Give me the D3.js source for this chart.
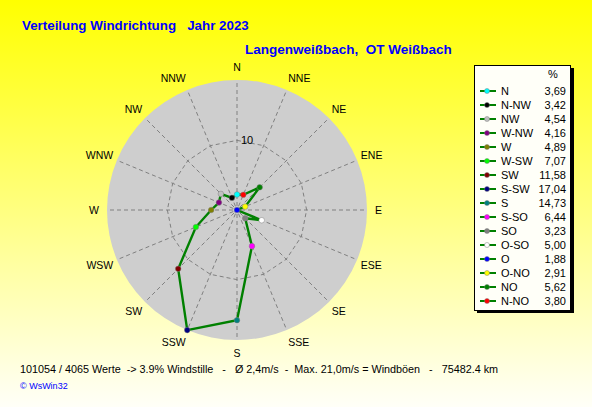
<!DOCTYPE html>
<html>
<head>
<meta charset="utf-8">
<title>Verteilung Windrichtung</title>
<script src="https://d3js.org/d3.v7.min.js"></script>
<style>
  html, body { margin: 0; padding: 0; }
  svg { display: block; }
  text { font-family: "Liberation Sans", Arial, sans-serif; font-size: 11px; fill: #000; }
</style>
</head>
<body>
<div id="chart"></div>
<script>
  // values in clockwise order, starting at north
  const directions = ["N", "NNE", "NE", "ENE", "E", "ESE", "SE", "SSE", "S", "SSW", "SW", "WSW", "W", "WNW", "NW", "NNW"];
  const percents = [3.69, 3.80, 5.62, 2.91, 1.88, 5.00, 3.23, 6.44, 14.73, 17.04, 11.58, 7.07, 4.89, 4.16, 4.54, 3.42];
  const markerColors = ["#00ffff", "#ff0000", "#008000", "#ffff00", "#0000ff", "#ffffff", "#808080", "#ff00ff", "#008080", "#000080", "#800000", "#00ff00", "#808000", "#800080", "#c0c0c0", "#000000"];

  // legend order, as in the table on the right
  const legendNames = ["N", "N-NW", "NW", "W-NW", "W", "W-SW", "SW", "S-SW", "S", "S-SO", "SO", "O-SO", "O", "O-NO", "NO", "N-NO"];
  const legendValues = ["3,69", "3,42", "4,54", "4,16", "4,89", "7,07", "11,58", "17,04", "14,73", "6,44", "3,23", "5,00", "1,88", "2,91", "5,62", "3,80"];
  const legendColors = ["#00ffff", "#000000", "#c0c0c0", "#800080", "#808000", "#00ff00", "#800000", "#000080", "#008080", "#ff00ff", "#808080", "#ffffff", "#0000ff", "#ffff00", "#008000", "#ff0000"];

  const ringValue = 10;

  const width = 592, height = 407;
  const cx = 237, cy = 210, outerR = 130;

  const svg = d3.select("#chart").append("svg")
    .attr("width", width)
    .attr("height", height);

  const grad = svg.append("defs").append("linearGradient")
    .attr("id", "bg")
    .attr("x1", 0).attr("y1", 0).attr("x2", 0).attr("y2", 1);
  grad.append("stop").attr("offset", "0%").attr("stop-color", "#ffff00");
  grad.append("stop").attr("offset", "100%").attr("stop-color", "#fffff8");

  svg.append("rect")
    .attr("width", width)
    .attr("height", height)
    .attr("fill", "url(#bg)");

  // titles
  svg.append("text")
    .attr("x", 22).attr("y", 30)
    .attr("xml:space", "preserve")
    .style("font-size", "13.35px").style("font-weight", "bold").style("fill", "#0000ff")
    .text("Verteilung Windrichtung   Jahr 2023");

  svg.append("text")
    .attr("x", 245).attr("y", 54)
    .attr("xml:space", "preserve")
    .style("font-size", "13.5px").style("font-weight", "bold").style("fill", "#0000ff")
    .text("Langenweißbach,  OT Weißbach");

  // the radial axis begins at the smallest value, not at zero
  const r = d3.scaleLinear()
    .domain([d3.min(percents), d3.max(percents)])
    .range([0, outerR]);

  const angle = d3.scalePoint()
    .domain(d3.range(directions.length + 1))
    .range([0, 2 * Math.PI]);

  const polar = svg.append("g")
    .attr("transform", `translate(${cx},${cy})`);

  polar.append("circle")
    .attr("r", outerR)
    .attr("fill", "#cecece");

  const line = d3.lineRadial()
    .angle((d, i) => angle(i))
    .radius(d => r(d))
    .curve(d3.curveLinearClosed);

  // the 10 % ring is a polygon with a corner on every spoke
  polar.append("path")
    .attr("d", line(directions.map(() => ringValue)))
    .attr("fill", "none")
    .attr("stroke", "#808080")
    .attr("stroke-dasharray", "4,3");

  polar.selectAll(".spoke")
    .data(directions)
    .join("line")
    .attr("class", "spoke")
    .attr("x1", (d, i) => 4 * Math.sin(angle(i)))
    .attr("y1", (d, i) => -4 * Math.cos(angle(i)))
    .attr("x2", (d, i) => outerR * Math.sin(angle(i)))
    .attr("y2", (d, i) => -outerR * Math.cos(angle(i)))
    .attr("stroke", "#808080")
    .attr("stroke-dasharray", "4,3");

  // labels hang outward from the circle, so the anchor depends on the side
  polar.selectAll(".dir")
    .data(directions)
    .join("text")
    .attr("class", "dir")
    .style("font-size", "10.5px")
    .attr("text-anchor", (d, i) => i === 0 || i === 8 ? "middle" : i < 8 ? "start" : "end")
    .attr("x", (d, i) => (i === 0 || i === 8 ? 0 : (i === 4 || i === 12 ? 138 : 134) * Math.sin(angle(i))))
    .attr("y", (d, i) => -143 * Math.cos(angle(i)) + 4)
    .text(d => d);

  polar.append("text")
    .attr("x", 4).attr("y", -r(ringValue) + 4)
    .text(ringValue);

  polar.append("path")
    .attr("d", line(percents))
    .attr("fill", "none")
    .attr("stroke", "#008000")
    .attr("stroke-width", 2.4);

  polar.selectAll(".pt")
    .data(percents)
    .join("circle")
    .attr("class", "pt")
    .attr("cx", (d, i) => r(d) * Math.sin(angle(i)))
    .attr("cy", (d, i) => -r(d) * Math.cos(angle(i)))
    .attr("r", 2.8)
    .attr("fill", (d, i) => markerColors[i])
    .attr("stroke", "#808080")
    .attr("stroke-width", 0.5);

  // legend box with hard shadow
  const legend = svg.append("g");
  legend.append("rect")
    .attr("x", 477).attr("y", 68).attr("width", 97).attr("height", 245)
    .attr("fill", "#000");
  legend.append("rect")
    .attr("x", 474.5).attr("y", 65.5).attr("width", 96).attr("height", 245)
    .attr("fill", "#fffff8")
    .attr("stroke", "#000");

  legend.append("text")
    .attr("x", 553).attr("y", 78)
    .attr("text-anchor", "middle")
    .text("%");

  const rowY = d3.scaleLinear().domain([0, 15]).range([91, 301]);

  const rows = legend.selectAll(".row")
    .data(legendNames)
    .join("g")
    .attr("class", "row")
    .attr("transform", (d, i) => `translate(0,${rowY(i)})`);

  rows.append("line")
    .attr("x1", 480).attr("x2", 496)
    .attr("stroke", "#008000")
    .attr("stroke-width", 2);

  rows.append("circle")
    .attr("cx", 487)
    .attr("r", 2.5)
    .attr("fill", (d, i) => legendColors[i])
    .attr("stroke", "#808080")
    .attr("stroke-width", 0.5);

  rows.append("text")
    .attr("x", 501).attr("y", 4)
    .text(d => d);

  rows.append("text")
    .attr("x", 566).attr("y", 4)
    .attr("text-anchor", "end")
    .text((d, i) => legendValues[i]);

  // footer
  svg.append("text")
    .attr("x", 20).attr("y", 373)
    .attr("xml:space", "preserve")
    .style("font-size", "10.8px")
    .text("101054 / 4065 Werte  -> 3.9% Windstille   -   Ø 2,4m/s  -  Max. 21,0m/s = Windböen   -   75482.4 km");

  svg.append("text")
    .attr("x", 20).attr("y", 389)
    .style("font-size", "9px").style("fill", "#0000ff")
    .text("© WsWin32");
</script>
</body>
</html>
